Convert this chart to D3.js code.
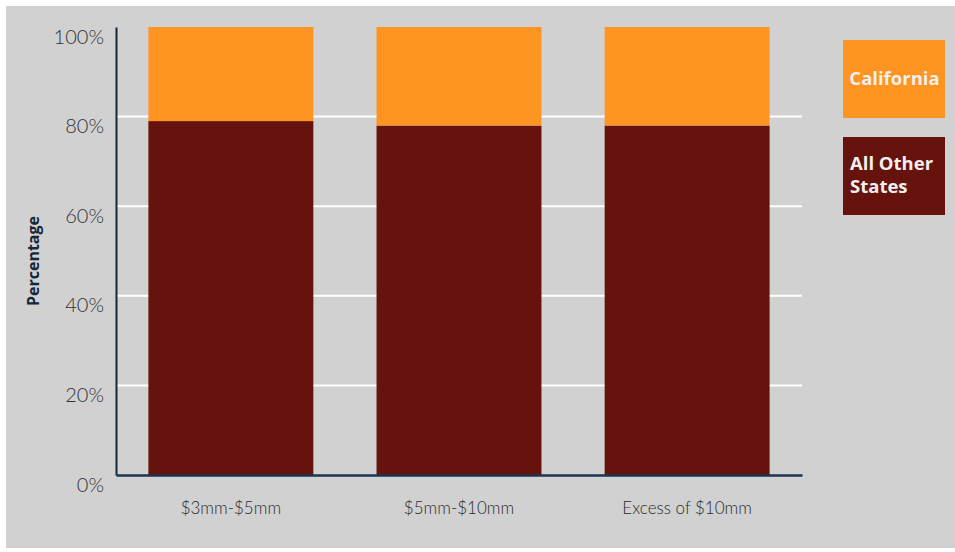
<!DOCTYPE html>
<html><head><meta charset="utf-8">
<script src="https://cdn.jsdelivr.net/npm/d3@7"></script>
<style>
html,body{margin:0;padding:0;background:#fff;}
svg{display:block;}
</style></head>
<body>
<svg id="chart" width="955" height="552"></svg>
<script>
const categories = ["$3mm-$5mm", "$5mm-$10mm", "Excess of $10mm"];
const allOtherStates = [79, 78, 78];
const california = [21, 22, 22];
const seriesNames = ["All Other States", "California"];
const yTicks = [0, 20, 40, 60, 80, 100];

const colors = {"All Other States": "#66120d", "California": "#fe9421"};
const svg = d3.select("#chart");
svg.append("rect").attr("x", 6).attr("y", 6).attr("width", 949).attr("height", 542).attr("fill", "#d1d1d1");

const margin = {left: 116, right: 802, top: 27, bottom: 475};
const x = d3.scaleBand().domain(categories).range([margin.left, margin.right]).paddingInner(0.277).paddingOuter(0.142);
const y = d3.scaleLinear().domain([0, 100]).range([margin.bottom, margin.top]);

const rows = categories.map((c, i) => ({cat: c, "All Other States": allOtherStates[i], "California": california[i]}));
const stack = d3.stack().keys(seriesNames)(rows);

// gridlines
svg.append("g").selectAll("line").data(yTicks.filter(t => t > 0 && t < 100)).join("line")
  .attr("x1", margin.left).attr("x2", margin.right)
  .attr("y1", d => y(d)).attr("y2", d => y(d))
  .attr("stroke", "#ffffff").attr("stroke-width", 2);

// bars
svg.append("g").selectAll("g").data(stack).join("g")
  .attr("fill", d => colors[d.key])
  .selectAll("rect").data(d => d).join("rect")
  .attr("x", d => x(d.data.cat))
  .attr("width", x.bandwidth())
  .attr("y", d => y(d[1]))
  .attr("height", d => y(d[0]) - y(d[1]));

// y axis
const yAxis = svg.append("g").attr("transform", `translate(${margin.left},0)`)
  .call(d3.axisLeft(y).tickValues(yTicks).tickFormat(d => d + "%").tickSize(0).tickPadding(12));
yAxis.select(".domain").attr("stroke", "#15273a").attr("stroke-width", 2);
yAxis.selectAll("text").attr("font-family", "Lato, sans-serif").attr("font-weight", 300)
  .attr("font-size", 20).attr("fill", "#333").attr("dy", "0.8em");

// x axis
const xAxis = svg.append("g").attr("transform", `translate(0,${margin.bottom})`)
  .call(d3.axisBottom(x).tickSize(0).tickPadding(27));
xAxis.select(".domain").attr("stroke", "#1b3550").attr("stroke-width", 2.5);
xAxis.selectAll("text").attr("font-family", "Lato, sans-serif").attr("font-weight", 300)
  .attr("font-size", 17).attr("fill", "#2a2a2a");

// y title
svg.append("text").attr("transform", "translate(39,261) rotate(-90)")
  .attr("text-anchor", "middle").attr("font-family", "'Open Sans', sans-serif").attr("font-weight", 700)
  .attr("font-size", 16).attr("fill", "#15273a").text("Percentage");

// legend
const legendData = [
  {name: "California", lines: ["California"], y: 40, anchor: "middle"},
  {name: "All Other States", lines: ["All Other", "States"], y: 137, anchor: "start"}
];
const lg = svg.append("g").selectAll("g").data(legendData).join("g");
lg.append("rect").attr("x", 843).attr("y", d => d.y).attr("width", 102).attr("height", 78)
  .attr("fill", d => colors[d.name]);
lg.each(function(d) {
  const g = d3.select(this);
  d.lines.forEach((l, i) => {
    g.append("text")
      .attr("x", d.anchor === "middle" ? 894.5 : 850)
      .attr("y", d.lines.length === 1 ? d.y + 45 : d.y + 33 + i * 23)
      .attr("text-anchor", d.anchor)
      .attr("font-family", "'Open Sans', sans-serif").attr("font-weight", 700)
      .attr("font-size", 18.5).attr("fill", "#f3efee").text(l);
  });
});
</script>
</body></html>
